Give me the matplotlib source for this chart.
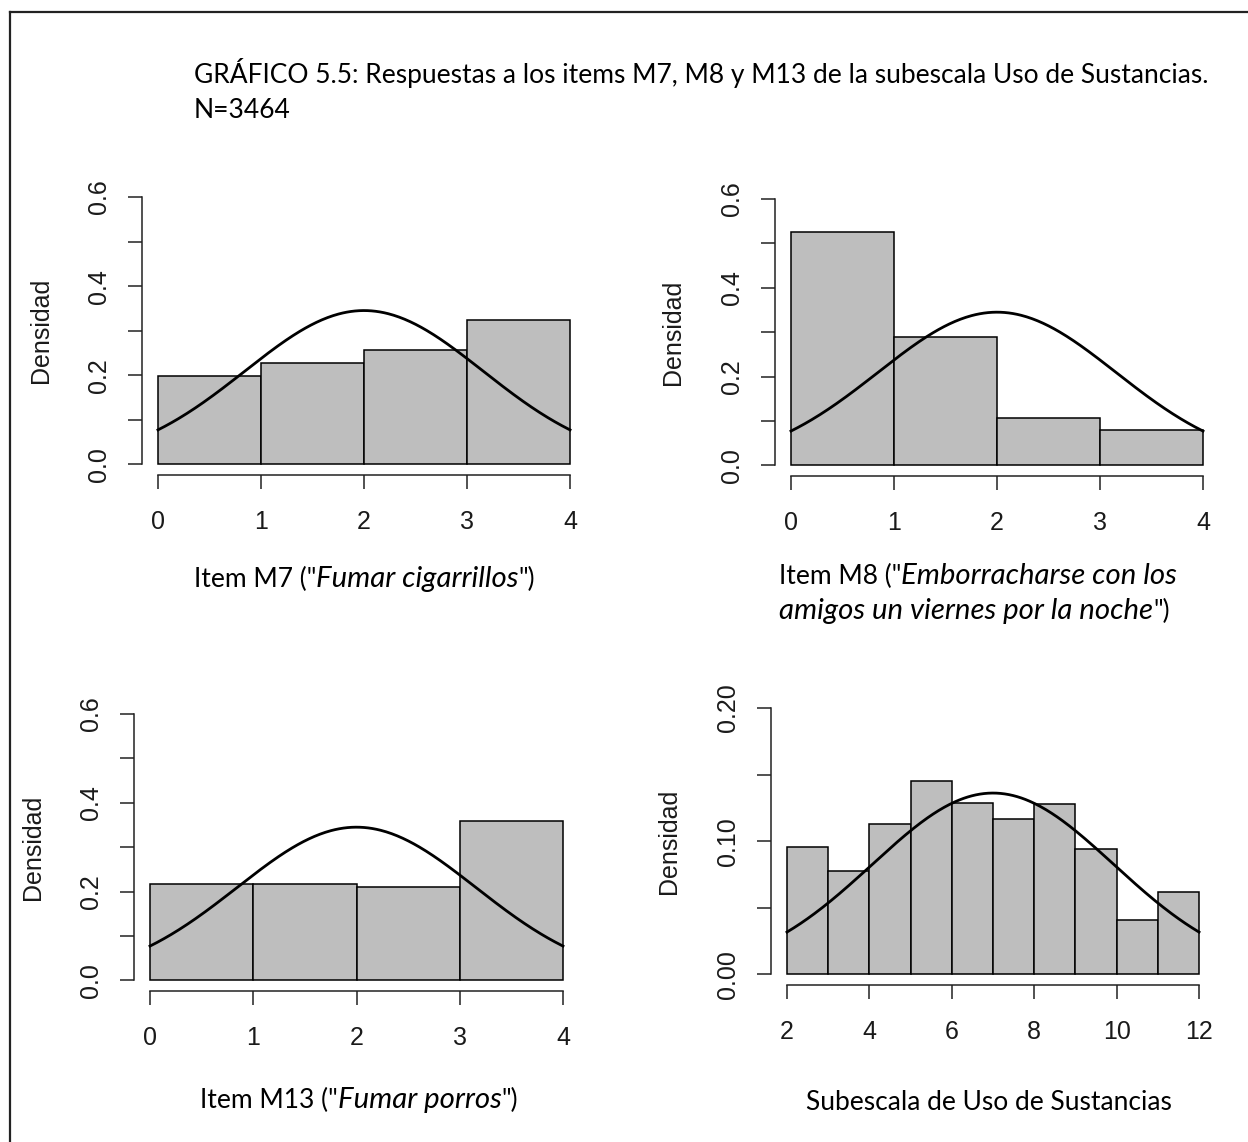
import numpy as np
import matplotlib.pyplot as plt
from matplotlib.lines import Line2D
from matplotlib.text import Annotation

# histogram densities (bins of width 1)
item_edges = [0, 1, 2, 3, 4]
m7_density = [0.198, 0.227, 0.256, 0.324]
m8_density = [0.525, 0.289, 0.106, 0.079]
m13_density = [0.217, 0.217, 0.210, 0.359]

sub_edges = [2, 3, 4, 5, 6, 7, 8, 9, 10, 11, 12]
sub_density = [0.0955, 0.0774, 0.113, 0.145, 0.1286, 0.117, 0.128, 0.094, 0.041, 0.062]

# parameters of the overlaid normal curves
item_mean, item_sd = 2.0, 1.156
sub_mean, sub_sd = 7.0, 2.93

title_lines = ["GRÁFICO 5.5: Respuestas a los items M7, M8 y M13 de la subescala Uso de Sustancias.",
               "N=3464"]

W, H = 1248, 1142
fig = plt.figure(figsize=(W / 100, H / 100), dpi=100)

R_FONT = "Liberation Sans"
DOC_FONT = "Lato"
DOC_SIZE = {"normal": 19, "italic": 21.2}


def px_axes(left, top, right, bottom):
    return fig.add_axes([left / W, 1 - bottom / H, (right - left) / W, (bottom - top) / H])


def normal_pdf(x, mean, sd):
    return np.exp(-0.5 * ((x - mean) / sd) ** 2) / (sd * np.sqrt(2 * np.pi))


def hist_panel(box, edges, dens, mean, sd, ymax, ystep, yfmt, xticks):
    ax = px_axes(*box)
    edges = np.asarray(edges, dtype=float)
    ax.bar(edges[:-1], dens, width=np.diff(edges), align="edge",
           color="#bebebe", edgecolor="black", linewidth=1.1)
    xs = np.linspace(edges[0], edges[-1], 300)
    ax.plot(xs, normal_pdf(xs, mean, sd), color="black", lw=2.0)

    xr = edges[-1] - edges[0]
    ax.set_xlim(edges[0] - 0.04 * xr, edges[-1] + 0.04 * xr)
    ax.set_ylim(-0.04 * ymax, 1.04 * ymax)

    for s in ["top", "right"]:
        ax.spines[s].set_visible(False)
    ax.spines["left"].set_bounds(0, ymax)
    ax.spines["bottom"].set_bounds(edges[0], edges[-1])
    for s in ["left", "bottom"]:
        ax.spines[s].set_linewidth(1.1)
        ax.spines[s].set_color("#222222")

    ax.set_xticks(xticks)
    ax.set_xticklabels([str(t) for t in xticks])
    major = np.arange(0, ymax + 1e-9, 2 * ystep)
    minor = np.arange(0, ymax + 1e-9, ystep)
    ax.set_yticks(major)
    ax.set_yticklabels([yfmt.format(v) for v in major])
    ax.set_yticks(minor, minor=True)

    ax.tick_params(which="both", length=10, width=1.1, color="#222222")
    ax.tick_params(axis="x", labelsize=18, pad=15, labelcolor="#1a1a1a")
    ax.tick_params(axis="y", labelsize=18, pad=12, labelcolor="#1a1a1a", labelrotation=90)
    for lab in ax.get_xticklabels() + ax.get_yticklabels():
        lab.set_fontfamily(R_FONT)
    plt.setp(ax.get_yticklabels(), va="center")

    # y label "Densidad", centred on the plot region
    fig.text((box[0] - 101) / W, 1 - (box[1] + box[3]) / 2 / H, "Densidad",
             rotation=90, ha="center", va="center", fontsize=18,
             family=R_FONT, color="#1a1a1a")
    return ax


def rich_text(x_px, y_px, parts):
    """Draw text segments one after another; parts = [(text, style), ...]."""
    first, style = parts[0]
    t = fig.text(x_px / W, 1 - y_px / H, first, fontstyle=style, family=DOC_FONT,
                 fontsize=DOC_SIZE[style], ha="left", va="baseline", color="black")
    for s, style in parts[1:]:
        t = Annotation(s, xy=(1, 0), xycoords=t, ha="left", va="bottom",
                       fontstyle=style, family=DOC_FONT, fontsize=DOC_SIZE[style],
                       color="black")
        fig.add_artist(t)


# panels: (left, top, right, bottom) of the R plot region in pixels
hist_panel((141.5, 186.3, 586.5, 475.0), item_edges, m7_density, item_mean, item_sd,
           0.6, 0.1, "{:.1f}", [0, 1, 2, 3, 4])
hist_panel((774.5, 188.4, 1219.5, 476.0), item_edges, m8_density, item_mean, item_sd,
           0.6, 0.1, "{:.1f}", [0, 1, 2, 3, 4])
hist_panel((133.5, 703.4, 579.5, 991.0), item_edges, m13_density, item_mean, item_sd,
           0.6, 0.1, "{:.1f}", [0, 1, 2, 3, 4])
hist_panel((770.5, 697.4, 1215.5, 985.0), sub_edges, sub_density, sub_mean, sub_sd,
           0.2, 0.05, "{:.2f}", [2, 4, 6, 8, 10, 12])

# captions written in the document font
rich_text(194, 83, [(title_lines[0], "normal")])
rich_text(194, 118, [(title_lines[1], "normal")])
rich_text(194, 587, [('Item M7 ("', "normal"), ("Fumar cigarrillos", "italic"), ('")', "normal")])
rich_text(779, 584, [('Item M8 ("', "normal"), ("Emborracharse con los", "italic")])
rich_text(779, 619, [("amigos un viernes por la noche", "italic"), ('")', "normal")])
rich_text(200, 1108, [('Item M13 ("', "normal"), ("Fumar porros", "italic"), ('")', "normal")])
rich_text(806, 1110, [("Subescala de Uso de Sustancias", "normal")])

# page frame (left and top edges)
fig.add_artist(Line2D([10 / W, 10 / W], [0, 1 - 12 / H], color="#222222", lw=1.6))
fig.add_artist(Line2D([10 / W, 1], [1 - 12 / H, 1 - 12 / H], color="#222222", lw=1.6))

fig.savefig("out.png", dpi=100)
